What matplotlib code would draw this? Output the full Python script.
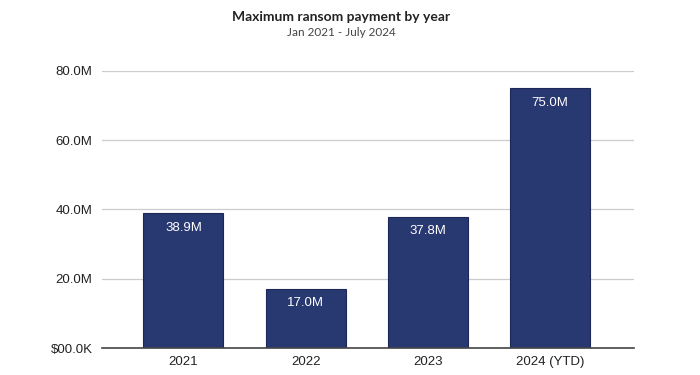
import matplotlib.pyplot as plt

# data
years = ["2021", "2022", "2023", "2024 (YTD)"]
max_payment = [38.9, 17.0, 37.8, 75.0]  # millions USD
bar_labels = ["38.9M", "17.0M", "37.8M", "75.0M"]
y_ticks = [0, 20, 40, 60, 80]
y_tick_labels = ["$00.0K", "20.0M", "40.0M", "60.0M", "80.0M"]

bar_color = "#283870"

fig = plt.figure(figsize=(7, 3.75), dpi=100)
ax = fig.add_axes([0.146, 0.072, 0.76, 0.739])

x = range(len(years))
bars = ax.bar(x, max_payment, width=0.655, color=bar_color,
              edgecolor="#1c2858", linewidth=0.8, zorder=3)

# value labels inside the bars, near the top
for b, lab in zip(bars, bar_labels):
    ax.annotate(lab, (b.get_x() + b.get_width() / 2, b.get_height()),
                xytext=(0, -6), textcoords="offset points",
                ha="center", va="top", color="white",
                fontsize=9.5, family="Liberation Sans")

ax.set_xlim(-0.665, 3.69)
ax.set_ylim(0, 80)
ax.set_xticks(list(x))
ax.set_xticklabels(years, family="Liberation Sans", fontsize=9.5, color="#222222")
ax.set_yticks(y_ticks)
ax.set_yticklabels(y_tick_labels, family="Liberation Sans", fontsize=9.5, color="#222222")
ax.tick_params(axis="both", length=0, pad=6)
ax.tick_params(axis="y", pad=7)

ax.grid(axis="y", color="#cccccc", linewidth=0.9, zorder=0)
for s in ["top", "right", "left"]:
    ax.spines[s].set_visible(False)
ax.spines["bottom"].set_color("#444444")
ax.spines["bottom"].set_linewidth(1.2)
ax.spines["bottom"].set_zorder(4)

fig.text(0.487, 0.955, "Maximum ransom payment by year", ha="center", va="center",
         fontsize=10, fontweight="bold", family="Lato", color="#222222")
fig.text(0.487, 0.912, "Jan 2021 - July 2024", ha="center", va="center",
         fontsize=8.5, family="Lato", color="#444444")

fig.savefig("out.png", dpi=100)
